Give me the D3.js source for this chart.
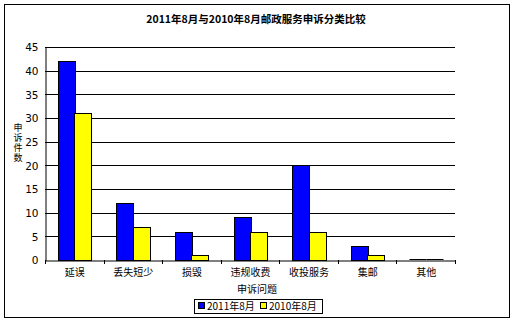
<!DOCTYPE html>
<html><head><meta charset="utf-8">
<script src="https://cdn.jsdelivr.net/npm/d3@7"></script>
<style>
html,body{margin:0;padding:0;background:#fff;}
text{font-family:"Noto Sans CJK SC","Noto Sans",sans-serif;fill:#000;}
</style></head>
<body>
<svg id="chart" width="515" height="322"></svg>
<script>
const title = "2011年8月与2010年8月邮政服务申诉分类比较";
const categories = ["延误","丢失短少","损毁","违规收费","收投服务","集邮","其他"];
const seriesNames = ["2011年8月","2010年8月"];
const values2011 = [42,12,6,9,20,3,0];
const values2010 = [31,7,1,6,6,1,0];
const yTicks = [0,5,10,15,20,25,30,35,40,45];
const colors = ["#0000ff","#ffff00"];
const xTitle = "申诉问题";
const yTitle = "申诉件数";

const svg = d3.select("#chart");
const m = {left:45, right:455, top:47, bottom:260};

svg.append("rect").attr("x",4.5).attr("y",4.5).attr("width",505).attr("height",313)
  .attr("fill","#fff").attr("stroke","#000").attr("stroke-width",1);

svg.append("text").attr("x",256).attr("y",23).attr("text-anchor","middle")
  .style("font-size","10.5px").style("font-weight","bold").text(title);

const x = d3.scaleBand().domain(categories).range([m.left,m.right]);
const y = d3.scaleLinear().domain([0,45]).range([m.bottom,m.top]);
const sub = d3.scaleBand().domain(seriesNames).range([0,33]);
const innerOff = (x.bandwidth()-33)/2;

// gridlines
svg.append("g").selectAll("line").data(yTicks.filter(d=>d>0)).join("line")
  .attr("x1",m.left).attr("x2",m.right)
  .attr("y1",d=>Math.round(y(d))+0.5).attr("y2",d=>Math.round(y(d))+0.5)
  .attr("stroke","#000");

// y axis
const yAxis = svg.append("g").attr("transform",`translate(${m.left+0.5},0.5)`)
  .call(d3.axisLeft(y).tickValues(yTicks).tickSize(0).tickPadding(7));
yAxis.select(".domain").attr("stroke","#000");
yAxis.selectAll("text").style("font-size","10.5px").style("font-family","'DejaVu Sans',sans-serif");

// bars
const series = [values2011, values2010];
series.forEach((vals,si)=>{
  const g = svg.append("g");
  categories.forEach((c,i)=>{
    const bx = Math.round(x(c)+innerOff+sub(seriesNames[si]))+0.5;
    const by = Math.round(y(vals[i]))+0.5;
    const bw = Math.round(sub.bandwidth());
    const bh = Math.round(y(0))-Math.round(y(vals[i]));
    if (bh > 0) {
      g.append("rect").attr("x",bx).attr("y",by).attr("width",bw).attr("height",bh)
        .attr("fill",colors[si]).attr("stroke","#000").attr("stroke-width",1);
    } else {
      g.append("line").attr("x1",bx).attr("x2",bx+bw).attr("y1",by-1).attr("y2",by-1)
        .attr("stroke","#000").attr("stroke-width",1);
    }
  });
});

// x axis
const xAxis = svg.append("g").attr("transform",`translate(0.5,${m.bottom+0.5})`)
  .call(d3.axisBottom(x).tickSize(0).tickPadding(8));
xAxis.select(".domain").attr("stroke","#000");
xAxis.selectAll("text").style("font-size","10px");
const bounds = categories.map(c=>x(c)).concat([m.right]);
svg.append("g").selectAll("line").data(bounds).join("line")
  .attr("x1",d=>Math.round(d)+0.5).attr("x2",d=>Math.round(d)+0.5)
  .attr("y1",m.bottom).attr("y2",m.bottom+4).attr("stroke","#000");

// axis titles
svg.append("text").attr("x",257).attr("y",293).attr("text-anchor","middle")
  .style("font-size","10px").text(xTitle);
svg.append("text").attr("x",18).attr("y",143).attr("text-anchor","middle")
  .style("font-size","9px").style("writing-mode","vertical-rl")
  .style("text-orientation","upright").style("letter-spacing","1px").text(yTitle);

// legend
const lg = svg.append("g");
lg.append("rect").attr("x",194.5).attr("y",299.5).attr("width",128).attr("height",14)
  .attr("fill","#fff").attr("stroke","#000");
const lx = [198,260];
seriesNames.forEach((s,i)=>{
  lg.append("rect").attr("x",lx[i]+0.5).attr("y",302.5).attr("width",6).attr("height",6)
    .attr("fill",colors[i]).attr("stroke","#000");
  lg.append("text").attr("x",lx[i]+9).attr("y",310).style("font-size","10px").text(s);
});
</script>
</body></html>
